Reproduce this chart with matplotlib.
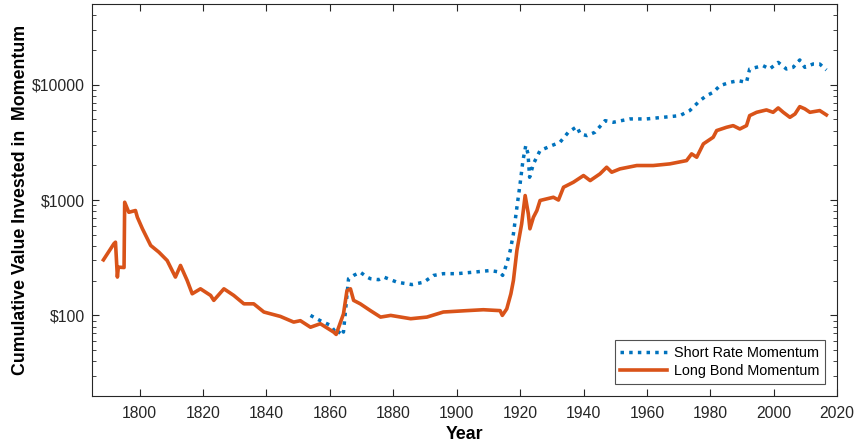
import numpy as np
import matplotlib

matplotlib.use("Agg")

import matplotlib.pyplot as plt  # isort: skip
from matplotlib.ticker import FixedLocator, FuncFormatter, LogLocator, NullFormatter

# Long bond momentum
bond_years = [
    1788.6, 1791.9, 1792.4, 1793.0, 1793.3, 1795.1, 1795.3, 1796.6, 1798.7, 1799.3,
    1800.9, 1803.5, 1806.1, 1808.7, 1811.3, 1812.9, 1815.0, 1816.6, 1819.2, 1822.4,
    1823.4, 1826.6, 1829.7, 1832.9, 1836.0, 1839.2, 1844.4, 1848.6, 1850.7, 1853.9,
    1857.0, 1861.2, 1862.0, 1862.8, 1864.3, 1865.4, 1866.5, 1867.5, 1869.6, 1872.8,
    1876.0, 1879.2, 1885.5, 1890.6, 1895.8, 1903.2, 1908.4, 1913.7, 1914.4, 1915.8,
    1917.1, 1917.9, 1919.0, 1920.5, 1921.6, 1922.6, 1923.1, 1924.2, 1925.3, 1926.3,
    1930.5, 1932.1, 1933.7, 1936.8, 1940.0, 1942.1, 1945.2, 1947.3, 1948.9, 1951.5,
    1956.8, 1962.0, 1967.2, 1972.5, 1974.1, 1975.7, 1977.8, 1980.9, 1982.0, 1985.1,
    1987.2, 1989.3, 1991.4, 1992.4, 1994.6, 1997.7, 1999.8, 2001.4, 2003.0, 2005.1,
    2006.7, 2008.2, 2009.8, 2011.4, 2014.5, 2016.6,
]
bond_values = [
    303, 418, 431, 215, 262, 260, 957, 783, 811, 709,
    563, 404, 353, 299, 215, 271, 201, 154, 170, 149,
    135, 170, 149, 126, 126, 107, 98, 87.5, 90, 79,
    84.7, 71.7, 68.4, 79, 103, 164, 170, 135, 126, 110,
    96.7, 100, 93.6, 96.7, 107, 110, 112, 110, 100, 114,
    154, 201, 366, 622, 1094, 758, 563, 709, 811, 991,
    1057, 1000, 1291, 1426, 1630, 1474, 1686, 1924, 1742, 1862,
    1991, 1991, 2057, 2197, 2512, 2350, 3067, 3500, 4000, 4270,
    4414, 4130, 4414, 5391, 5760, 6040, 5760, 6285, 5760, 5212,
    5570, 6450, 6170, 5760, 5960, 5470,
]

# Short rate momentum
short_years = [
    1853.9, 1857.0, 1860.2, 1862.3, 1863.8, 1864.3, 1865.9, 1867.5, 1869.6, 1871.7,
    1872.8, 1875.4, 1877.0, 1881.2, 1885.9, 1889.6, 1892.7, 1895.8, 1900.1, 1905.3,
    1910.6, 1913.7, 1914.5, 1915.8, 1916.9, 1917.9, 1919.0, 1920.0, 1920.9, 1921.8,
    1922.5, 1923.0, 1924.2, 1926.3, 1930.0, 1932.6, 1935.2, 1937.9, 1939.0, 1941.1,
    1943.6, 1946.8, 1949.4, 1954.6, 1959.9, 1965.1, 1970.4, 1973.5, 1976.7, 1978.8,
    1980.9, 1983.0, 1986.1, 1988.8, 1991.4, 1992.4, 1996.6, 1998.7, 2001.4, 2004.0,
    2006.1, 2008.2, 2009.8, 2012.4, 2014.5, 2016.6,
]
short_values = [
    100, 90, 82, 68.4, 76.7, 71.7, 208, 222, 237, 215,
    208, 204, 215, 194, 185, 194, 222, 230, 230, 237,
    245, 237, 222, 281, 366, 509, 866, 1380, 2197, 2966,
    2512, 1575, 2057, 2685, 2966, 3170, 3866, 4329, 3741, 3617,
    3866, 4874, 4719, 5046, 5046, 5212, 5391, 5960, 7265, 8034,
    8575, 9790, 10460, 10830, 10460, 13670, 14620, 13670, 15600, 13670,
    14130, 16370, 14130, 15100, 15100, 13400,
]

plt.rcParams["font.family"] = ["Liberation Sans", "DejaVu Sans"]

fig = plt.figure(figsize=(8.56, 4.46), dpi=100)
ax = fig.add_axes([0.1075, 0.112, 0.8705, 0.879])

ax.plot(short_years, short_values, color="#0072BD", linewidth=2.5,
        linestyle=(0, (1.0, 1.5)), label="Short Rate Momentum")
ax.plot(bond_years, bond_values, color="#D95319", linewidth=2.6,
        label="Long Bond Momentum")

ax.set_yscale("log")
ax.set_xlim(1785, 2020)
ax.set_ylim(20, 50000)
ax.xaxis.set_major_locator(FixedLocator(np.arange(1800, 2021, 20)))
ax.yaxis.set_major_locator(FixedLocator([100, 1000, 10000]))
ax.yaxis.set_major_formatter(FuncFormatter(lambda v, _: f"${v:.0f}"))
ax.yaxis.set_minor_locator(LogLocator(base=10, subs=np.arange(2, 10)))
ax.yaxis.set_minor_formatter(NullFormatter())

ax.tick_params(which="both", direction="in", top=True, right=True,
               colors="#262626", labelsize=11.3)
ax.tick_params(which="major", length=5, width=0.8)
ax.tick_params(which="minor", length=3, width=0.6)
ax.tick_params(axis="x", pad=7)
ax.tick_params(axis="y", pad=5)
for s in ax.spines.values():
    s.set_color("#262626")
    s.set_linewidth(0.8)

ax.set_xlabel("Year", fontsize=12.8, fontweight="bold", labelpad=4)
ax.set_ylabel("Cumulative Value Invested in  Momentum", fontsize=12.8,
              fontweight="bold", labelpad=2.5)

leg = ax.legend(loc="lower right", fontsize=10.4, frameon=True, fancybox=False,
                edgecolor="#262626", borderpad=0.4, handlelength=3.25,
                labelspacing=0.3, borderaxespad=0.85, handletextpad=0.45)
leg.get_frame().set_linewidth(0.8)

fig.savefig("out.png", dpi=100)
